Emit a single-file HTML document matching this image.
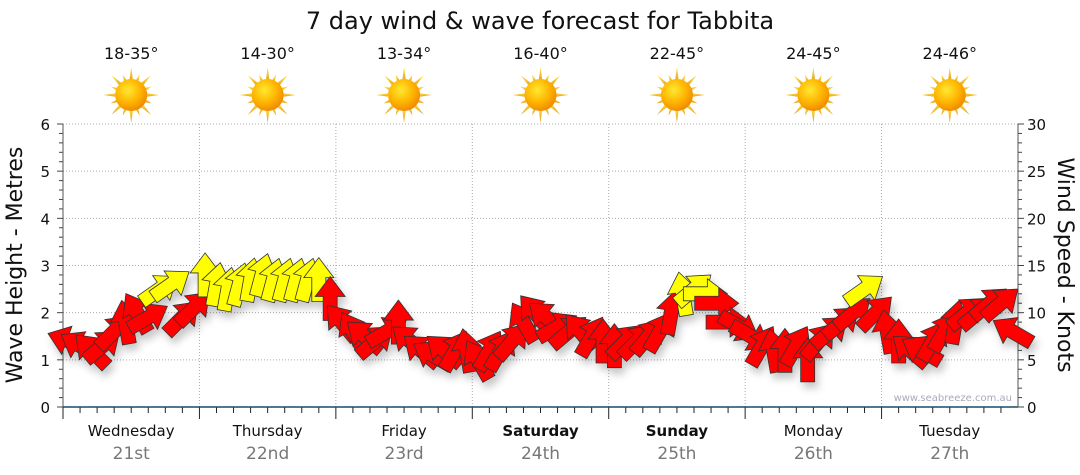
<!DOCTYPE html>
<html><head><meta charset="utf-8"><style>
body{margin:0;background:#fff;}
svg{display:block;font-family:"DejaVu Sans","Liberation Sans",sans-serif;}
</style></head><body>
<svg id="c" width="1080" height="475" viewBox="0 0 1080 475">
<defs>
<radialGradient id="sg" cx="40%" cy="35%" r="65%"><stop offset="0" stop-color="#ffe830"/><stop offset="0.6" stop-color="#ffb400"/><stop offset="1" stop-color="#f08c00"/></radialGradient>
<linearGradient id="rg" x1="0" y1="0" x2="0" y2="1"><stop offset="0" stop-color="#ffe040"/><stop offset="1" stop-color="#e0a020"/></linearGradient>
<filter id="sh" x="-50%" y="-50%" width="200%" height="200%"><feDropShadow dx="3" dy="6" stdDeviation="4" flood-color="#000" flood-opacity="0.22"/></filter>
<symbol id="sun" viewBox="-30 -30 60 60" overflow="visible"><g id="rays"></g><circle r="16" fill="url(#sg)"/></symbol>
</defs>
<text x="540" y="29" text-anchor="middle" font-size="24" fill="#111">7 day wind &amp; wave forecast for Tabbita</text>
<g id="topg"></g>
<g id="grid"></g>
<g id="axes"></g>
<g id="marks" filter="url(#sh)"></g>
<text x="1012" y="401" text-anchor="end" font-size="10" fill="#aab">www.seabreeze.com.au</text>
<text transform="translate(22,265) rotate(-90)" text-anchor="middle" font-size="22" fill="#111">Wave Height - Metres</text>
<text transform="translate(1058,265) rotate(90)" text-anchor="middle" font-size="22" fill="#111">Wind Speed - Knots</text>
</svg>
<script>
const days=["Wednesday","Thursday","Friday","Saturday","Sunday","Monday","Tuesday"];
const dates=["21st","22nd","23rd","24th","25th","26th","27th"];
const boldDays=[false,false,false,true,true,false,false];
const temps=["18-35°","14-30°","13-34°","16-40°","22-45°","24-45°","24-46°"];
const waveTicks=[0,1,2,3,4,5,6];
const windTicks=[0,5,10,15,20,25,30];
const windSpeed=[7,6.5,6,6.5,8,9,10,9.5,12.5,13,9.5,10.5,
14,13,12.5,13,13.5,14,13.5,13.5,13.5,13.5,13.5,11.5,
9,8,7.5,7,8,9,7,6,5.5,6,6,6,
5,6,6,7,9,10,9.5,8.5,8,8,7.5,7,
6.5,7,7,7.5,8,10,12,12.5,12,11,9,8.5,
7.5,6.5,6,6,6.5,5,7,8,9,10,12.5,10,
8,7,6,6,7,8,9,10,10,11,11,8];
const windDir=[-160,-150,-135,-40,-45,-100,-120,-30,-35,-35,-45,-45,
-90,-80,-80,-75,-80,-75,-75,-75,-75,-75,-90,-90,
-130,-120,-140,-40,-30,-90,-140,-140,-150,-140,-60,-100,
-120,-60,-60,-50,-120,-130,-140,-30,-40,-130,-60,-90,
-90,-45,-45,-50,-60,-80,-100,-40,0,0,0,30,
30,-60,-100,-90,-60,-90,-50,-40,-40,-40,-35,-45,
-100,-90,-140,-150,-60,-60,-80,-40,-40,-40,-40,-150];
const NS="http://www.w3.org/2000/svg";
const PL=63,PR=1018,PT=124,PB=407,DW=(PR-PL)/7;
const xT=h=>PL+h/24*DW;
const yW=m=>PB-(m/6)*(PB-PT);
const yK=k=>PB-(k/30)*(PB-PT);
function mk(tag,at,p){const e=document.createElementNS(NS,tag);for(const k in at)e.setAttribute(k,at[k]);(p||document.getElementById('c')).appendChild(e);return e;}
const raysG=document.getElementById('rays');
for(let i=0;i<16;i++){const a=i*Math.PI/8,long=i%2==0,r2=long?28:22,w=0.16;
mk('polygon',{points:`${13*Math.cos(a-w)},${13*Math.sin(a-w)} ${r2*Math.cos(a)},${r2*Math.sin(a)} ${13*Math.cos(a+w)},${13*Math.sin(a+w)}`,fill:'url(#rg)'},raysG);}
const topG=document.getElementById('topg'),gridG=document.getElementById('grid'),axesG=document.getElementById('axes');
for(let d=0;d<7;d++){const cx=PL+DW*(d+0.5);
let t=mk('text',{x:cx,y:59,'text-anchor':'middle','font-size':16,fill:'#111'},topG);t.textContent=temps[d];


let u=mk('use',{href:'#sun',x:cx-30,y:65,width:60,height:60},topG);


let dn=mk('text',{x:cx,y:436,'text-anchor':'middle','font-size':15,fill:'#111','font-weight':boldDays[d]?'bold':'normal'},axesG);dn.textContent=days[d];


let dt=mk('text',{x:cx,y:459,'text-anchor':'middle','font-size':17,fill:'#777'},axesG);dt.textContent=dates[d];


if(d>0)mk('line',{x1:PL+DW*d,y1:PT,x2:PL+DW*d,y2:PB,stroke:'#aaa','stroke-dasharray':'1,2'},gridG);
for(let k=0;k<8;k++){const x=PL+DW*d+k*DW/8;mk('line',{x1:x,y1:PB,x2:x,y2:PB+(k==0?12:6),stroke:'#222'},axesG);}
}
mk('line',{x1:PR,y1:PT,x2:PR,y2:PB,stroke:'#aaa','stroke-dasharray':'1,2'},gridG);
waveTicks.forEach(v=>{const y=yW(v);if(v>0)mk('line',{x1:PL,y1:y,x2:PR,y2:y,stroke:'#aaa','stroke-dasharray':'1,2'},gridG);
let t=mk('text',{x:50,y:y+6,'text-anchor':'end','font-size':15,fill:'#111'},axesG);t.textContent=v;

});
for(let i=0;i<=30;i++){const y=yW(i*0.2);mk('line',{x1:PL-(i%5==0?6:4),y1:y,x2:PL,y2:y,stroke:'#444'},axesG);}
windTicks.forEach(v=>{const y=yK(v);
let t=mk('text',{x:1027,y:y+6,'font-size':15,fill:'#111'},axesG);t.textContent=v;

});
for(let i=0;i<=30;i++){const y=yK(i);mk('line',{x1:PR,y1:y,x2:PR+(i%5==0?6:4),y2:y,stroke:'#444'},axesG);}
mk('line',{x1:PL,y1:PT,x2:PL,y2:PB,stroke:'#555'},axesG);
mk('line',{x1:PR,y1:PT,x2:PR,y2:PB,stroke:'#555'},axesG);
mk('line',{x1:PL,y1:PB,x2:PR,y2:PB,stroke:'#1a4a6a','stroke-width':1.5},axesG);
const marksG=document.getElementById('marks');
windSpeed.forEach((s,i)=>{const x=xT(i*2+1),y=yK(s);
const p=mk('polygon',{points:'-22,-7 2,-7 2,-15 22,0 2,15 2,7 -22,7',fill:s>=12?'#ffff00':'#ff0000',stroke:'#333','stroke-width':0.8,transform:`translate(${x},${y}) rotate(${windDir[i]})`},marksG);

});
</script>
</body></html>
